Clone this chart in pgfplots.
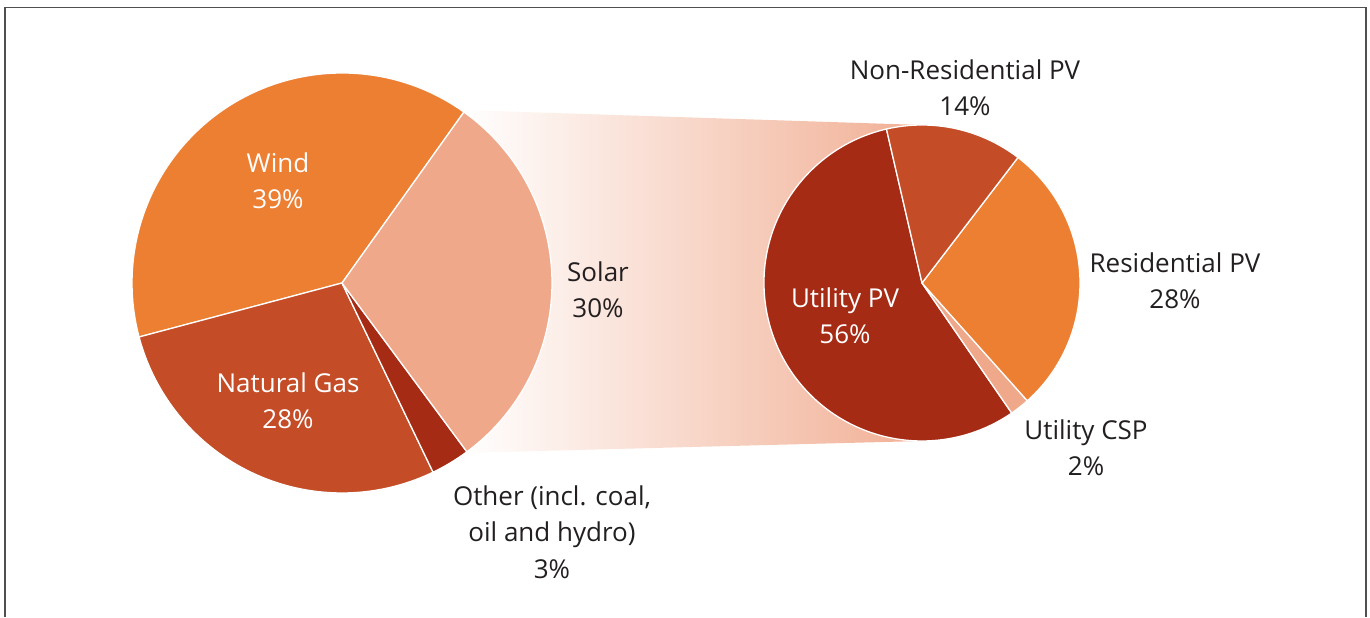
\documentclass[border=0pt]{standalone}
\usepackage{fontspec}
\setmainfont{Open Sans}
\usepackage{pgfplots}
\usepackage{pgfplotstable}
\pgfplotsset{compat=1.18}

\definecolor{windc}{HTML}{ED7F32}
\definecolor{solarc}{HTML}{F0A88A}
\definecolor{gasc}{HTML}{C44C27}
\definecolor{otherc}{HTML}{A62B15}
\definecolor{bandc}{HTML}{F1AF94}
\definecolor{txt}{HTML}{231F20}
\definecolor{framec}{HTML}{505050}

\tikzset{lbl/.style={font=\fontsize{26}{36.5}\selectfont, align=center, inner sep=0pt}}

% generation mix, counter-clockwise from the Solar/Wind edge
\pgfplotstableread{
label value color
Wind 39 windc
NaturalGas 28 gasc
Other 3 otherc
Solar 30 solarc
}\mainpie

% solar split, counter-clockwise from the top edge
\pgfplotstableread{
label value color
UtilityPV 56 otherc
UtilityCSP 2 solarc
ResidentialPV 28 windc
NonResidentialPV 14 gasc
}\solarpie

% #1 table, #2 cx, #3 cy, #4 radius, #5 start angle
\newcommand\drawpie[5]{%
  \pgfplotstablegetrowsof{#1}%
  \pgfmathtruncatemacro\nlast{\pgfplotsretval-1}%
  \xdef\angstart{#5}%
  \foreach \i in {0,...,\nlast}{%
    \pgfplotstablegetelem{\i}{value}\of{#1}\let\val\pgfplotsretval
    \pgfplotstablegetelem{\i}{color}\of{#1}\let\col\pgfplotsretval
    \pgfmathsetmacro\angend{\angstart+3.6*\val}%
    \fill[fill=\col, draw=white, line width=1.3pt, line join=round]
      (axis cs:#2,#3) -- ++(\angstart:#4pt)
      arc[start angle=\angstart, end angle=\angend, radius=#4pt] -- cycle;
    \xdef\angstart{\angend}%
  }%
}

\begin{document}
\begin{tikzpicture}
\begin{axis}[
  x=1pt, y=1pt,
  xmin=0, xmax=1370, ymin=0, ymax=617,
  scale only axis, hide axis, clip=false,
]
\path (axis cs:0,0) rectangle (axis cs:1370,617);
% frame
\draw[framec, line width=1.5pt] (axis cs:5,0) -- (axis cs:5,609.5)
  -- (axis cs:1366,609.5) -- (axis cs:1366,0);

% connecting band
\shade[left color=white, right color=bandc, draw=none]
  (axis cs:462,507) -- (axis cs:922,492) -- (axis cs:922,176) -- (axis cs:462,164) -- cycle;

\pgfplotsextra{\drawpie{\mainpie}{342}{334}{210}{54.5}}
\pgfplotsextra{\drawpie{\solarpie}{922}{334}{158}{103}}

% labels
\node[lbl, text=white] at (axis cs:278,436) {Wind\\39\%};
\node[lbl, text=white] at (axis cs:288,216) {Natural Gas\\28\%};
\node[lbl, text=txt] at (axis cs:598,327) {Solar\\30\%};
\node[lbl, text=txt] at (axis cs:552,85) {Other (incl. coal,\\oil and hydro)\\3\%};
\node[lbl, text=white] at (axis cs:845,301) {Utility PV\\56\%};
\node[lbl, text=txt] at (axis cs:965,529) {Non-Residential PV\\14\%};
\node[lbl, text=txt] at (axis cs:1175,336) {Residential PV\\28\%};
\node[lbl, text=txt] at (axis cs:1086,169) {Utility CSP\\2\%};
\end{axis}
\end{tikzpicture}
\end{document}
